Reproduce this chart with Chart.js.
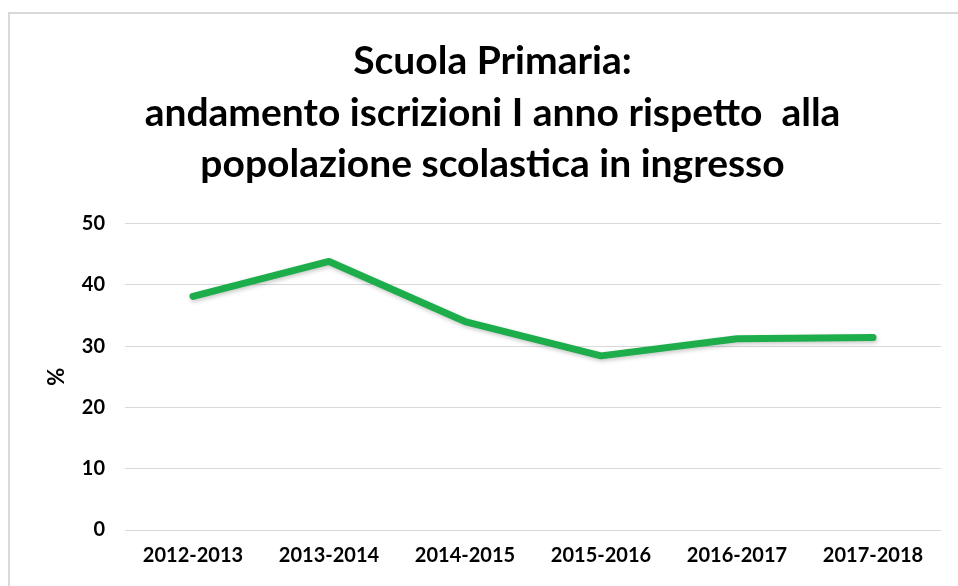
<!DOCTYPE html>
<html>
<head>
<meta charset="utf-8">
<script src="https://cdn.jsdelivr.net/npm/chart.js@4"></script>
<style>
    html, body { margin: 0; padding: 0; background: #fff; }
    .frame {
        position: absolute;
        left: 8px;
        top: 12px;
        width: 960px;
        height: 600px;
        border-left: 2px solid #d9d9d9;
        border-top: 2px solid #d9d9d9;
    }
    .wrap {
        position: absolute;
        left: 0;
        top: 0;
        width: 958px;
        height: 586px;
    }
</style>
</head>
<body>
<div class="frame"></div>
<div class="wrap"><canvas id="iscrizioniChart" width="958" height="586"></canvas></div>
<script>
const years = ["2012-2013", "2013-2014", "2014-2015", "2015-2016", "2016-2017", "2017-2018"];
const percentuali = [38.1, 43.8, 34.0, 28.4, 31.2, 31.4];
const titleLines = [
    "Scuola Primaria:",
    "andamento iscrizioni I anno rispetto  alla",
    "popolazione scolastica in ingresso"
];

// soft shadow under the line
const lineShadow = {
    id: "lineShadow",
    beforeDatasetDraw(chart) {
        const c = chart.ctx;
        c.save();
        c.shadowColor = "rgba(0,0,0,0.22)";
        c.shadowBlur = 4;
        c.shadowOffsetX = 1;
        c.shadowOffsetY = 2;
    },
    afterDatasetDraw(chart) {
        chart.ctx.restore();
    }
};

const ctx = document.getElementById("iscrizioniChart");

new Chart(ctx, {
    type: "line",
    data: {
        labels: years,
        datasets: [{
            data: percentuali,
            borderColor: "#1dae4b",
            borderWidth: 7,
            tension: 0,
            pointRadius: 0,
            borderCapStyle: "round",
            borderJoinStyle: "round",
            fill: false
        }]
    },
    plugins: [lineShadow],
    options: {
        responsive: false,
        animation: false,
        layout: {
            padding: { top: 36, right: 17, bottom: 4, left: 44 }
        },
        plugins: {
            legend: { display: false },
            tooltip: { enabled: false },
            title: {
                display: true,
                text: titleLines,
                color: "#000",
                font: { family: "Lato", size: 39, weight: "bold", lineHeight: 1.32 },
                padding: { top: 0, bottom: 33 }
            }
        },
        scales: {
            x: {
                offset: true,
                grid: { display: false, drawTicks: false },
                border: { display: false },
                ticks: {
                    color: "#000",
                    padding: 14,
                    maxRotation: 0,
                    font: { family: "Lato", size: 20, weight: "bold" }
                }
            },
            y: {
                min: 0,
                max: 50,
                afterFit: (scale) => { scale.width = 81; },
                grid: { color: "#d9d9d9", lineWidth: 1, drawTicks: false },
                border: { display: false },
                ticks: {
                    stepSize: 10,
                    color: "#000",
                    padding: 20,
                    font: { family: "Lato", size: 20, weight: "bold" }
                },
                title: {
                    display: true,
                    text: "%",
                    color: "#000",
                    padding: { top: 0, bottom: 0 },
                    font: { family: "Lato", size: 22, weight: "bold" }
                }
            }
        }
    }
});
</script>
</body>
</html>
